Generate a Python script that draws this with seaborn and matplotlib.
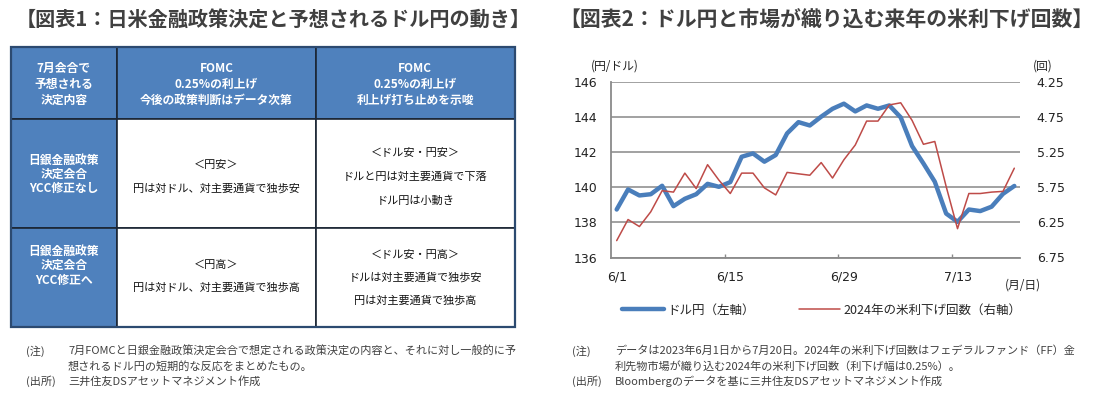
import numpy as np
import pandas as pd
import matplotlib
matplotlib.use("Agg")
import matplotlib.pyplot as plt
import seaborn as sns
from matplotlib.patches import Rectangle
from matplotlib.lines import Line2D

sns.set_theme(style="white")
plt.rcParams['font.family'] = ['Noto Sans CJK JP', 'DejaVu Sans']

# --- data ---
dates = pd.bdate_range("2023-06-01", "2023-07-20")
usdjpy = [138.73, 139.87, 139.53, 139.60, 140.08, 138.92, 139.34, 139.60, 140.19, 140.02,
          140.29, 141.73, 141.92, 141.45, 141.83, 143.06, 143.70, 143.51, 144.01, 144.46,
          144.75, 144.31, 144.65, 144.46, 144.65, 143.97, 142.34, 141.35, 140.31, 138.50,
          138.03, 138.73, 138.64, 138.89, 139.62, 140.07]
cuts_2024 = [6.51, 6.21, 6.31, 6.10, 5.80, 5.82, 5.55, 5.77, 5.43, 5.65,
             5.84, 5.55, 5.55, 5.76, 5.86, 5.54, 5.56, 5.58, 5.40, 5.62,
             5.36, 5.15, 4.81, 4.81, 4.58, 4.55, 4.80, 5.14, 5.10, 5.74,
             6.34, 5.84, 5.84, 5.82, 5.81, 5.48]
left_ticks = [136, 138, 140, 142, 144, 146]
right_ticks = [4.25, 4.75, 5.25, 5.75, 6.25, 6.75]
xlabel_every = 10

header_texts = [["7月会合で", "予想される", "決定内容"],
                ["FOMC", "0.25%の利上げ", "今後の政策判断はデータ次第"],
                ["FOMC", "0.25%の利上げ", "利上げ打ち止めを示唆"]]
row_heads = [["日銀金融政策", "決定会合", "YCC修正なし"],
             ["日銀金融政策", "決定会合", "YCC修正へ"]]
cells = [[["＜円安＞", "円は対ドル、対主要通貨で独歩安"],
          ["＜ドル安・円安＞", "ドルと円は対主要通貨で下落", "ドル円は小動き"]],
         [["＜円高＞", "円は対ドル、対主要通貨で独歩高"],
          ["＜ドル安・円高＞", "ドルは対主要通貨で独歩安", "円は対主要通貨で独歩高"]]]

df = pd.DataFrame({"i": np.arange(len(dates)), "usdjpy": usdjpy, "cuts": cuts_2024})

W, H = 1099, 397
BLUE = "#4A7EBB"
RED = "#BE4B48"
HEAD = "#4F81BD"

fig = plt.figure(figsize=(W / 100, H / 100), dpi=100)
fig.patch.set_facecolor("white")

# overlay in pixel coordinates for the table and free text
ov = fig.add_axes([0, 0, 1, 1], zorder=0)
ov.set_xlim(0, W)
ov.set_ylim(H, 0)
ov.axis("off")

ov.text(273, 20, "【図表1：日米金融政策決定と予想されるドル円の動き】", ha="center", va="center",
        fontsize=14.5, fontweight="bold", color="#404040")
ov.text(826, 20, "【図表2：ドル円と市場が織り込む来年の米利下げ回数】", ha="center", va="center",
        fontsize=15, fontweight="bold", color="#404040")

# --- table ---
xs = [10.5, 117, 316, 514.5]
ys = [47, 118.75, 228, 327]
for r in range(3):
    for c in range(3):
        fill = HEAD if (r == 0 or c == 0) else "white"
        ov.add_patch(Rectangle((xs[c], ys[r]), xs[c + 1] - xs[c], ys[r + 1] - ys[r],
                               facecolor=fill, edgecolor="#1b2635", lw=1.2))
ov.add_patch(Rectangle((xs[0], ys[0]), xs[3] - xs[0], ys[3] - ys[0],
                       facecolor="none", edgecolor="#2c4a70", lw=1.6))


def cell_lines(xc, ycs, lines, **kw):
    for y, s in zip(ycs, lines):
        ov.text(xc, y, s, ha="center", va="center", **kw)


for c in range(3):
    cell_lines((xs[c] + xs[c + 1]) / 2, [68.7, 84.5, 100.2], header_texts[c],
               color="white", fontweight="bold", fontsize=8.5)
cell_lines((xs[0] + xs[1]) / 2, [160.7, 174.7, 188.7], row_heads[0],
           color="white", fontweight="bold", fontsize=8.5)
cell_lines((xs[0] + xs[1]) / 2, [251.5, 265.5, 280.2], row_heads[1],
           color="white", fontweight="bold", fontsize=8.5)
cell_lines((xs[1] + xs[2]) / 2, [165.3, 188.7], cells[0][0], color="#111111", fontsize=8)
cell_lines((xs[2] + xs[3]) / 2, [152.7, 177.2, 200.3], cells[0][1], color="#111111", fontsize=8)
cell_lines((xs[1] + xs[2]) / 2, [264.8, 287.2], cells[1][0], color="#111111", fontsize=8)
cell_lines((xs[2] + xs[3]) / 2, [255, 277.7, 300.5], cells[1][1], color="#111111", fontsize=8)

# notes
note_kw = dict(fontsize=8, color="#404040", va="center", ha="left")
ov.text(26, 351, "(注)", **note_kw)
ov.text(68, 351, "7月FOMCと日銀金融政策決定会合で想定される政策決定の内容と、それに対し一般的に予", **note_kw)
ov.text(68, 366, "想されるドル円の短期的な反応をまとめたもの。", **note_kw)
ov.text(26, 381, "(出所)", **note_kw)
ov.text(68, 381, "三井住友DSアセットマネジメント作成", **note_kw)

ov.text(572, 351, "(注)", **note_kw)
ov.text(615, 351, "データは2023年6月1日から7月20日。2024年の米利下げ回数はフェデラルファンド（FF）金", **note_kw)
ov.text(615, 366, "利先物市場が織り込む2024年の米利下げ回数（利下げ幅は0.25%）。", **note_kw)
ov.text(572, 381, "(出所)", **note_kw)
ov.text(615, 381, "Bloombergのデータを基に三井住友DSアセットマネジメント作成", **note_kw)

# --- line chart ---
x0, x1, y0, y1 = 611, 1020, 81.7, 257.5
ax = fig.add_axes([x0 / W, 1 - y1 / H, (x1 - x0) / W, (y1 - y0) / H], zorder=2)
ax.patch.set_alpha(0)
sns.lineplot(data=df, x="i", y="usdjpy", ax=ax, color=BLUE, lw=3.2, zorder=3)
ax.set_ylim(136, 146)
ax.set_xlim(-0.5, len(dates) - 0.5)
ax.set_yticks(left_ticks)
ax.set_yticklabels([str(v) for v in left_ticks], family="DejaVu Sans", fontsize=9, color="#222222")
ax.grid(axis="y", color="#9a9a9a", lw=1.3)
ax.grid(axis="x", visible=False)
for s in ["top", "right"]:
    ax.spines[s].set_visible(False)
for s in ["left", "bottom"]:
    ax.spines[s].set_color("#8a8a8a")
    ax.spines[s].set_linewidth(1.3)
ax.set_xlabel("")
ax.set_ylabel("")
lab_pos = list(range(0, len(dates), xlabel_every))
ax.set_xticks(lab_pos)
ax.set_xticklabels([f"{d.month}/{d.day}" for d in dates[lab_pos]], family="DejaVu Sans",
                   fontsize=9, color="#222222")
ax.set_xticks([p - 0.5 for p in lab_pos[1:]], minor=True)
ax.tick_params(axis="x", which="major", length=0, pad=9)
ax.tick_params(axis="x", which="minor", direction="in", length=3, width=1, color="#8a8a8a", bottom=True)
ax.tick_params(axis="y", length=0, pad=10)

ax2 = ax.twinx()
sns.lineplot(data=df, x="i", y="cuts", ax=ax2, color=RED, lw=1.1, zorder=4)
ax2.set_ylim(6.75, 4.25)
ax2.set_yticks(right_ticks)
ax2.set_yticklabels([f"{v:.2f}" for v in right_ticks], family="DejaVu Sans", fontsize=9, color="#222222")
ax2.tick_params(axis="y", length=0, pad=12)
ax2.grid(False)
for s in ax2.spines.values():
    s.set_visible(False)
ax2.set_ylabel("")

ov.text(615, 66, "(円/ドル)", ha="center", va="center", fontsize=8.5, color="#222222")
ov.text(1043, 66, "(回)", ha="center", va="center", fontsize=8.5, color="#222222")
ov.text(1023, 285, "(月/日)", ha="center", va="center", fontsize=8.5, color="#222222")

handles = [Line2D([], [], color=BLUE, lw=3.2), Line2D([], [], color=RED, lw=1.1)]
fig.legend(handles, ["ドル円（左軸）", "2024年の米利下げ回数（右軸）"], loc="center",
           bbox_to_anchor=(822 / W, 1 - 310 / H), ncol=2, frameon=False, fontsize=9,
           handlelength=3.3, columnspacing=3.5, handletextpad=0.3)

fig.savefig("out.png", dpi=100, facecolor="white")
